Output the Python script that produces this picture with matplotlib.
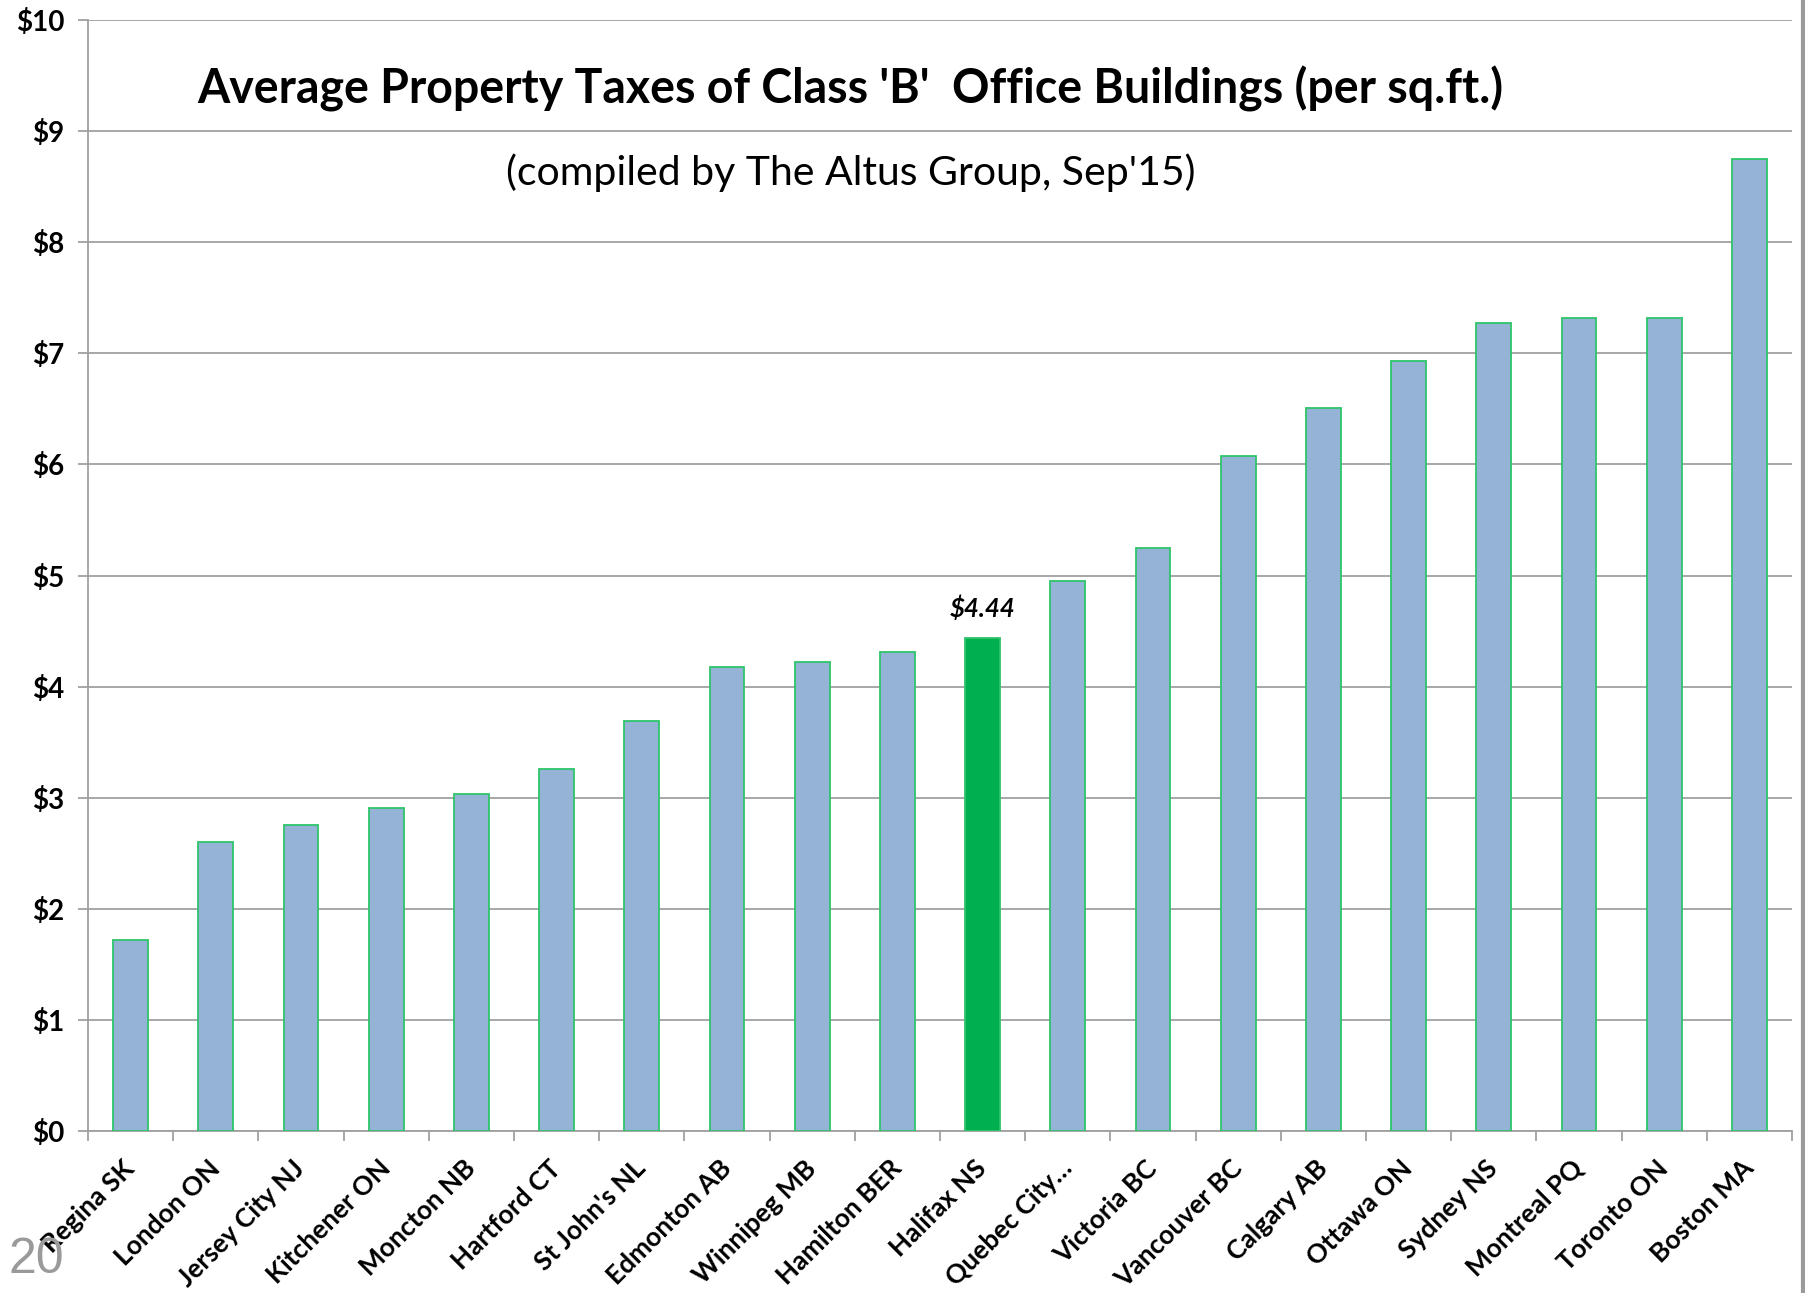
import matplotlib
matplotlib.use("Agg")
import matplotlib.pyplot as plt
from matplotlib.lines import Line2D
from matplotlib.ticker import FuncFormatter, FixedLocator
import numpy as np

# City names along the x axis.
cities = ["Regina SK", "London ON", "Jersey City NJ", "Kitchener ON", "Moncton NB",
          "Hartford CT", "St John's NL", "Edmonton AB", "Winnipeg MB", "Hamilton BER",
          "Halifax NS", "Quebec City\u2026", "Victoria BC", "Vancouver BC", "Calgary AB",
          "Ottawa ON", "Sydney NS", "Montreal PQ", "Toronto ON", "Boston MA"]

# Average property tax per sq.ft. (dollars).
taxes = [1.72, 2.60, 2.75, 2.91, 3.03, 3.26, 3.69, 4.18, 4.22, 4.31,
         4.44, 4.95, 5.25, 6.08, 6.51, 6.93, 7.27, 7.32, 7.32, 8.75]

highlight = "Halifax NS"
y_ticks = [0, 1, 2, 3, 4, 5, 6, 7, 8, 9, 10]

plt.rcParams['font.family'] = ['Lato', 'DejaVu Sans']

fig = plt.figure(figsize=(18.06, 12.93), dpi=100)
ax = fig.add_axes([88 / 1806, (1293 - 1131) / 1293, (1792 - 88) / 1806, 1111 / 1293])

x = np.arange(len(cities))
colors = ['#00B050' if c == highlight else '#95B3D7' for c in cities]
ax.bar(x, taxes, width=0.41, color=colors, edgecolor='#2EC46A', linewidth=1.3, zorder=3)

ax.set_xlim(-0.5, len(cities) - 0.5)
ax.set_ylim(0, 10)

# Gridlines and axes
ax.set_yticks(y_ticks)
ax.yaxis.set_major_formatter(FuncFormatter(lambda v, p: f"${v:.0f}"))
ax.grid(axis='y', color='#A0A0A0', linewidth=1.3, zorder=0)
for side in ['top', 'right']:
    ax.spines[side].set_visible(False)
ax.spines['left'].set_color('#A0A0A0')
ax.spines['bottom'].set_color('#A0A0A0')
ax.spines['left'].set_linewidth(1.3)
ax.spines['bottom'].set_linewidth(1.3)

ax.tick_params(axis='y', length=7, width=1.3, color='#A0A0A0', pad=10, labelsize=20)
for lab in ax.get_yticklabels():
    lab.set_fontweight('bold')

# Category ticks between bars, labels under bars.
ax.xaxis.set_major_locator(FixedLocator(np.arange(-0.5, len(cities), 1.0)))
ax.xaxis.set_major_formatter(FuncFormatter(lambda v, p: ""))
ax.tick_params(axis='x', which='major', length=7, width=1.3, color='#A0A0A0')
ax.set_xticks(x, minor=True)
ax.set_xticklabels(cities, minor=True, rotation=45, ha='right', va='center',
                   rotation_mode='anchor', fontsize=19, fontweight='bold')
ax.tick_params(axis='x', which='minor', length=0, pad=24)

# Label on highlighted bar
hi = cities.index(highlight)
ax.annotate(f"${taxes[hi]:.2f}", (hi, taxes[hi]), xytext=(0, 12), textcoords='offset points',
            ha='center', va='bottom', fontsize=18.5, fontweight='bold', style='italic')

fig.text(850 / 1806, 1 - 89 / 1293, "Average Property Taxes of Class 'B'  Office Buildings (per sq.ft.)",
         ha='center', va='center', fontsize=33.5, fontweight='bold')
fig.text(851 / 1806, 1 - 173 / 1293, "(compiled by The Altus Group, Sep'15)",
         ha='center', va='center', fontsize=29.5)

# Slide number and right border
fig.text(9 / 1806, 20 / 1293, "20", ha='left', va='baseline', fontsize=36,
         color='#9A9A9A', family='Liberation Sans')
fig.add_artist(Line2D([1803 / 1806, 1803 / 1806], [0, 1], color='#9A9A9A', linewidth=3,
                      transform=fig.transFigure))

fig.savefig("out.png", dpi=100)
